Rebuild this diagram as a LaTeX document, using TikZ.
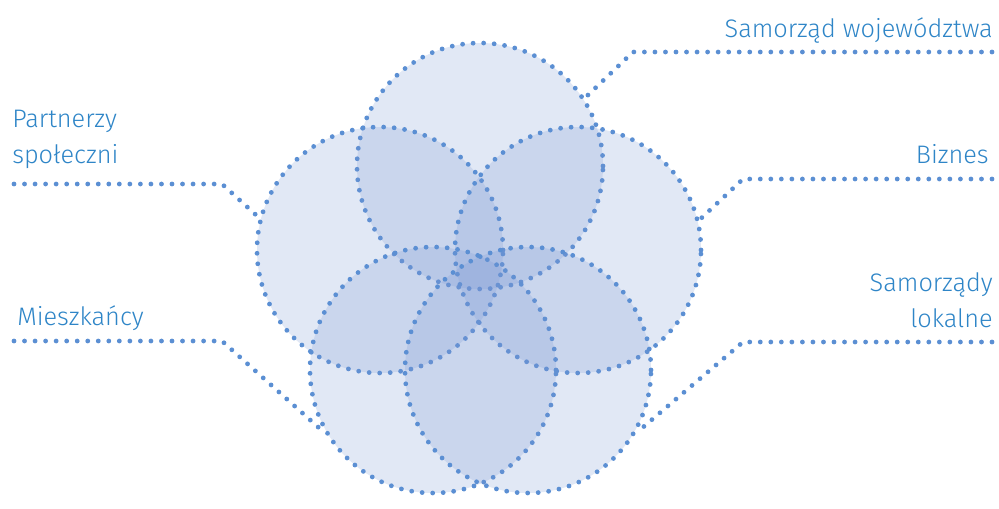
\documentclass[tikz,border=0pt]{standalone}
\usepackage{fontspec}
\setmainfont{Fira Sans Light}
\usetikzlibrary{positioning}
\definecolor{dotblue}{HTML}{5B8FD3}
\definecolor{txtblue}{HTML}{2E85C7}
\definecolor{petal}{HTML}{7896D2}

\begin{document}
\begin{tikzpicture}[
  x=0.75pt, y=-0.75pt,
  petalring/.style={circle, minimum size=184.5pt, inner sep=0pt,
              fill=petal, fill opacity=0.22, draw=dotblue, draw opacity=1,
              line width=3.6pt, line cap=round, dash pattern=on 0pt off 7.9pt},
  leader/.style={draw=dotblue, line width=3.6pt, line cap=round,
              dash pattern=on 0pt off 7.9pt},
  lbl/.style={font=\fontsize{19}{27}\selectfont, text=txtblue, inner sep=0pt}
]
\useasboundingbox (0,0) rectangle (999,508);
\node[petalring] (top)  at (480,166) {};
\node[petalring] (left) at (380,250) {};
\node[petalring] (right) at (578,250) {};
\node[petalring] (botl) at (433,370) {};
\node[petalring] (botr) at (528,370) {};
\node[lbl, anchor=base east]             (wojLbl) at (993,37)  {Samorząd województwa};
\node[lbl, anchor=base east]             (bizLbl) at (989,163) {Biznes};
\node[lbl, anchor=base east, align=right] (samLbl) at (993,327) {Samorządy\\lokalne};
\node[lbl, anchor=base west, align=left]  (parLbl) at (12,163)  {Partnerzy\\społeczni};
\node[lbl, anchor=base west]             (mieLbl) at (17,325)  {Mieszkańcy};
\coordinate (wojEnd) at (992,52);  \coordinate (wojBend) at (633,52);
\coordinate (bizEnd) at (992,179); \coordinate (bizBend) at (743,179);
\coordinate (samEnd) at (992,342); \coordinate (samBend) at (743,342);
\coordinate (parEnd) at (14,184);  \coordinate (parBend) at (222,184);
\coordinate (mieEnd) at (14,341);  \coordinate (mieBend) at (222,341);
\draw[leader] (wojEnd) -- (wojBend) -- (top.33);
\draw[leader] (bizEnd) -- (bizBend) -- (right.14);
\draw[leader] (samEnd) -- (samBend) -- (botr.-30);
\draw[leader] (parEnd) -- (parBend) -- (left.165);
\draw[leader] (mieEnd) -- (mieBend) -- (botl.210);
\end{tikzpicture}
\end{document}
